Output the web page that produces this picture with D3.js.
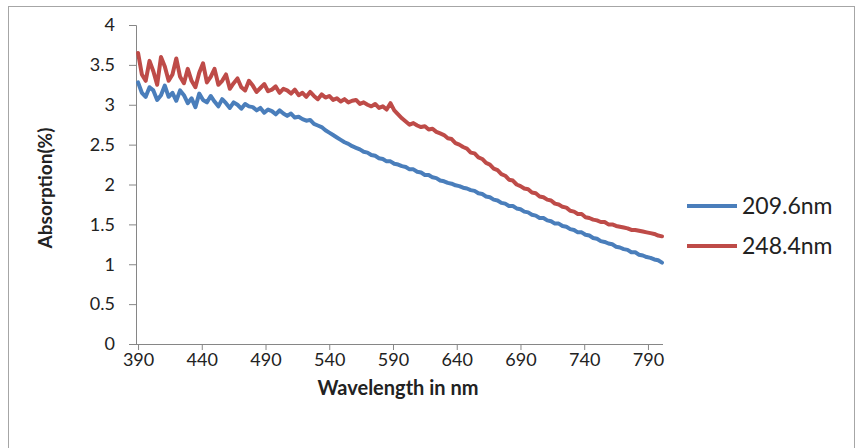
<!DOCTYPE html>
<html>
<head>
<meta charset="utf-8">
<script src="https://cdn.jsdelivr.net/npm/d3@7"></script>
<style>
    body { margin: 0; background: #fff; }
    text { font-family: Lato, "Open Sans", sans-serif; fill: #222; }
</style>
</head>
<body>
<svg id="chart" width="857" height="448"></svg>
<script>
// Wavelength grid: 390 nm onwards in 3 nm steps
var startNm = 390;
var stepNm = 3;

// Series 209.6nm (blue)
var blueValues = [
    3.28, 3.15, 3.10, 3.22, 3.18, 3.06, 3.12, 3.24, 3.10, 3.15,
    3.05, 3.18, 3.12, 3.02, 3.08, 2.97, 3.14, 3.06, 3.03, 3.11,
    3.04, 2.98, 3.07, 3.02, 2.96, 3.03, 3.00, 2.95, 3.01, 2.98,
    2.97, 2.93, 2.96, 2.90, 2.94, 2.92, 2.88, 2.93, 2.89, 2.86,
    2.89, 2.84, 2.85, 2.82, 2.80, 2.81, 2.76, 2.74, 2.72, 2.68,
    2.65, 2.62, 2.59, 2.56, 2.53, 2.51, 2.48, 2.46, 2.44, 2.41,
    2.40, 2.37, 2.36, 2.33, 2.32, 2.29, 2.29, 2.26, 2.25, 2.23,
    2.22, 2.19, 2.19, 2.16, 2.15, 2.12, 2.12, 2.09, 2.08, 2.05,
    2.04, 2.02, 2.01, 1.99, 1.98, 1.96, 1.95, 1.93, 1.92, 1.89,
    1.88, 1.85, 1.84, 1.81, 1.80, 1.77, 1.76, 1.73, 1.73, 1.70,
    1.69, 1.66, 1.65, 1.62, 1.61, 1.58, 1.58, 1.55, 1.54, 1.51,
    1.51, 1.48, 1.47, 1.44, 1.43, 1.40, 1.40, 1.37, 1.36, 1.33,
    1.32, 1.29, 1.28, 1.26, 1.25, 1.22, 1.21, 1.19, 1.18, 1.15,
    1.15, 1.12, 1.11, 1.09, 1.08, 1.06, 1.05, 1.02
];

// Series 248.4nm (red)
var redValues = [
    3.65, 3.38, 3.30, 3.55, 3.42, 3.25, 3.60, 3.48, 3.30, 3.38,
    3.58, 3.35, 3.27, 3.45, 3.30, 3.22, 3.40, 3.52, 3.28, 3.35,
    3.45, 3.25, 3.30, 3.38, 3.20, 3.27, 3.33, 3.22, 3.18, 3.30,
    3.24, 3.16, 3.21, 3.26, 3.17, 3.19, 3.23, 3.15, 3.20, 3.18,
    3.14, 3.19, 3.12, 3.15, 3.10, 3.16, 3.11, 3.07, 3.13, 3.09,
    3.11, 3.06, 3.08, 3.04, 3.07, 3.03, 3.05, 3.06, 3.01, 3.03,
    3.00, 2.98, 3.01, 2.96, 2.98, 2.94, 3.02, 2.93, 2.88, 2.83,
    2.79, 2.75, 2.77, 2.74, 2.72, 2.73, 2.69, 2.70, 2.66, 2.64,
    2.62, 2.58, 2.57, 2.52, 2.50, 2.47, 2.45, 2.40, 2.39, 2.34,
    2.32, 2.27, 2.25, 2.20, 2.18, 2.13, 2.11, 2.06, 2.05, 2.00,
    1.98, 1.95, 1.94, 1.90, 1.89, 1.85, 1.84, 1.81, 1.80, 1.76,
    1.75, 1.72, 1.71, 1.67, 1.66, 1.63, 1.63, 1.59, 1.58, 1.56,
    1.55, 1.53, 1.53, 1.50, 1.50, 1.48, 1.47, 1.46, 1.45, 1.43,
    1.43, 1.42, 1.41, 1.40, 1.39, 1.38, 1.36, 1.35
];

var seriesNames = ["209.6nm", "248.4nm"];
var seriesColors = ["#4a7ebb", "#be4b48"];

var xTickValues = [390, 440, 490, 540, 590, 640, 690, 740, 790];
var yTickValues = [0, 0.5, 1, 1.5, 2, 2.5, 3, 3.5, 4];

(function () {
    var svg = d3.select("#chart");

    // Chart area frame
    svg.append("rect")
        .attr("x", 8.5)
        .attr("y", 6.5)
        .attr("width", 846)
        .attr("height", 450)
        .attr("fill", "#fff")
        .attr("stroke", "#a6a6a6")
        .attr("stroke-width", 1);

    // Plot area bounds
    var plotLeft = 136, plotRight = 663, plotTop = 25, plotBottom = 344;

    var x = d3.scaleLinear().domain([388.4, 801.8]).range([plotLeft, plotRight]);
    var y = d3.scaleLinear().domain([0, 4]).range([plotBottom, plotTop]);

    // Y axis
    var yAxis = svg.append("g")
        .attr("transform", "translate(" + plotLeft + ",0)")
        .call(d3.axisLeft(y).tickValues(yTickValues).tickSize(7).tickPadding(14)
            .tickFormat(function (d) { return d; }));
    yAxis.select(".domain").attr("stroke", "#868686");
    yAxis.selectAll(".tick line").attr("stroke", "#868686");
    yAxis.selectAll("text").style("font-size", "18px").attr("fill", "#222");

    // X axis
    var xAxis = svg.append("g")
        .attr("transform", "translate(0," + plotBottom + ")")
        .call(d3.axisBottom(x).tickValues(xTickValues).tickSize(6).tickPadding(3)
            .tickFormat(function (d) { return d; }));
    xAxis.select(".domain").attr("stroke", "#868686").attr("d", "M" + plotLeft + ",0.5H" + plotRight);
    xAxis.selectAll(".tick line").attr("stroke", "#868686");
    xAxis.selectAll("text").style("font-size", "18px").attr("fill", "#222");

    // Axis titles
    svg.append("text")
        .attr("x", 398)
        .attr("y", 395)
        .attr("text-anchor", "middle")
        .style("font-size", "20px")
        .style("font-weight", "bold")
        .text("Wavelength in nm");

    svg.append("text")
        .attr("transform", "translate(52,188) rotate(-90)")
        .attr("text-anchor", "middle")
        .style("font-size", "19px")
        .style("font-weight", "bold")
        .text("Absorption(%)");

    // Build point lists for both series
    var allSeries = [blueValues, redValues].map(function (vals, s) {
        return {
            name: seriesNames[s],
            color: seriesColors[s],
            points: vals.map(function (v, i) { return { nm: startNm + i * stepNm, value: v }; })
        };
    });

    var line = d3.line()
        .x(function (d) { return x(d.nm); })
        .y(function (d) { return y(d.value); });

    // Draw blue first so red sits on top, as in the picture
    svg.selectAll(".series")
        .data(allSeries)
        .enter()
        .append("path")
        .attr("class", "series")
        .attr("d", function (d) { return line(d.points); })
        .attr("fill", "none")
        .attr("stroke", function (d) { return d.color; })
        .attr("stroke-width", 4)
        .attr("stroke-linejoin", "round")
        .attr("stroke-linecap", "round");

    // Legend
    var legend = svg.append("g").attr("transform", "translate(687,206)");
    var item = legend.selectAll("g")
        .data(allSeries)
        .enter()
        .append("g")
        .attr("transform", function (d, i) { return "translate(0," + (i * 40) + ")"; });
    item.append("line")
        .attr("x1", 0).attr("x2", 50)
        .attr("y1", 0).attr("y2", 0)
        .attr("stroke", function (d) { return d.color; })
        .attr("stroke-width", 4);
    item.append("text")
        .attr("x", 55)
        .attr("y", 0)
        .attr("dy", "0.35em")
        .style("font-size", "23px")
        .text(function (d) { return d.name; });
})();
</script>
</body>
</html>
